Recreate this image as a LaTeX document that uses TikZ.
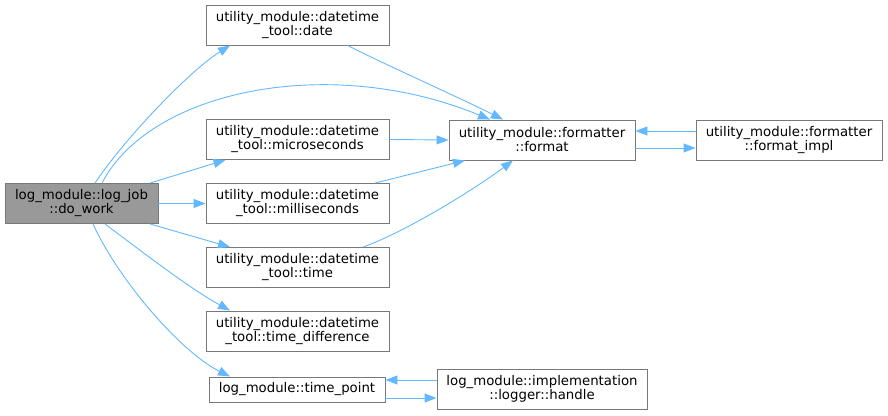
\documentclass[tikz,border=0pt]{standalone}
\usepackage{fontspec}
\setmainfont{DejaVu Sans}
\usepackage{xcolor}
\usetikzlibrary{arrows.meta}

\begin{document}
\begin{tikzpicture}[
  x=1pt, y=-1pt,
  cgbox/.style={rectangle, draw={rgb,255:red,120;green,120;blue,120},
    fill=white, line width=0.9pt, align=center, inner sep=2pt,
    minimum width=183pt, minimum height=40pt,
    font=\fontsize{13.3}{14}\selectfont},
  cgroot/.style={cgbox, fill={rgb,255:red,153;green,153;blue,153}},
  cgline/.style={cgbox, minimum height=25pt},
  cgarr/.style={-{Triangle[length=12pt,width=9pt]},
    line width=0.9pt,
    color={rgb,255:red,99;green,184;blue,255}},
]
  \useasboundingbox (0,0) rectangle (888,415);

  %% ── Nodes ───────────────────────────────────────────────────
  \node[cgroot, minimum width=153pt] (dowork) at (81.5,203.5)
    {log\_module::log\_job\\::do\_work};
  \node[cgbox] (date)  at (297.5,25)
    {utility\_module::datetime\\\_tool::date};
  \node[cgbox] (micro) at (297.5,139.5)
    {utility\_module::datetime\\\_tool::microseconds};
  \node[cgbox] (milli) at (297.5,203.5)
    {utility\_module::datetime\\\_tool::milliseconds};
  \node[cgbox] (time)  at (297.5,267.5)
    {utility\_module::datetime\\\_tool::time};
  \node[cgbox] (tdiff) at (297.5,331)
    {utility\_module::datetime\\\_tool::time\_difference};
  \node[cgline, minimum width=176pt] (tpoint) at (297,389.5)
    {log\_module::time\_point};
  \node[cgbox, minimum width=186pt] (format) at (542,140)
    {utility\_module::formatter\\::format};
  \node[cgbox, minimum width=186pt] (fimpl) at (789,140)
    {utility\_module::formatter\\::format\_impl};
  \node[cgbox, minimum width=210pt] (handle) at (542,389)
    {log\_module::implementation\\::logger::handle};

  %% ── Calls from do_work ──────────────────────────────────────
  \draw[cgarr] ([xshift=13.5pt]dowork.north)
    .. controls +(30,-45) and +(-40,25) .. ([xshift=-67.5pt]date.south);
  \draw[cgarr] ([xshift=20.5pt]dowork.north)
    .. controls +(48,-93) and +(-160,-66) .. ([xshift=-52pt]format.north);
  \draw[cgarr] ([xshift=68.5pt]dowork.north) -- ([xshift=-72pt]micro.south);
  \draw[cgarr] (dowork.east) -- (milli.west);
  \draw[cgarr] ([xshift=68.5pt]dowork.south) -- ([xshift=-67.5pt]time.north);
  \draw[cgarr] ([xshift=23.5pt]dowork.south)
    .. controls +(40,30) and +(-40,-22) .. ([xshift=-67.5pt]tdiff.north);
  \draw[cgarr] ([xshift=11.5pt]dowork.south)
    .. controls +(25,55) and +(-50,-25) .. ([xshift=-67pt]tpoint.north);

  %% ── Calls into format ───────────────────────────────────────
  \draw[cgarr] ([xshift=50pt]date.south)
    .. controls +(50,25) and +(-50,-25) .. ([xshift=-39pt]format.north);
  \draw[cgarr] (micro.east) -- (format.west);
  \draw[cgarr] ([xshift=77.5pt]milli.north) -- ([xshift=-77pt]format.south);
  \draw[cgarr] ([xshift=65.5pt]time.north)
    .. controls +(40,-14) and +(-40,30) .. ([xshift=-29pt]format.south);

  %% ── Mutual calls ────────────────────────────────────────────
  \draw[cgarr] ([yshift=-8pt]format.east) -- ([yshift=-8pt]fimpl.west);
  \draw[cgarr] ([yshift=9pt]fimpl.west) -- ([yshift=9pt]format.east);
  \draw[cgarr] ([yshift=-8.5pt]tpoint.east) -- ([yshift=-9pt]handle.west);
  \draw[cgarr] ([yshift=9pt]handle.west) -- ([yshift=9.5pt]tpoint.east);

\end{tikzpicture}
\end{document}
